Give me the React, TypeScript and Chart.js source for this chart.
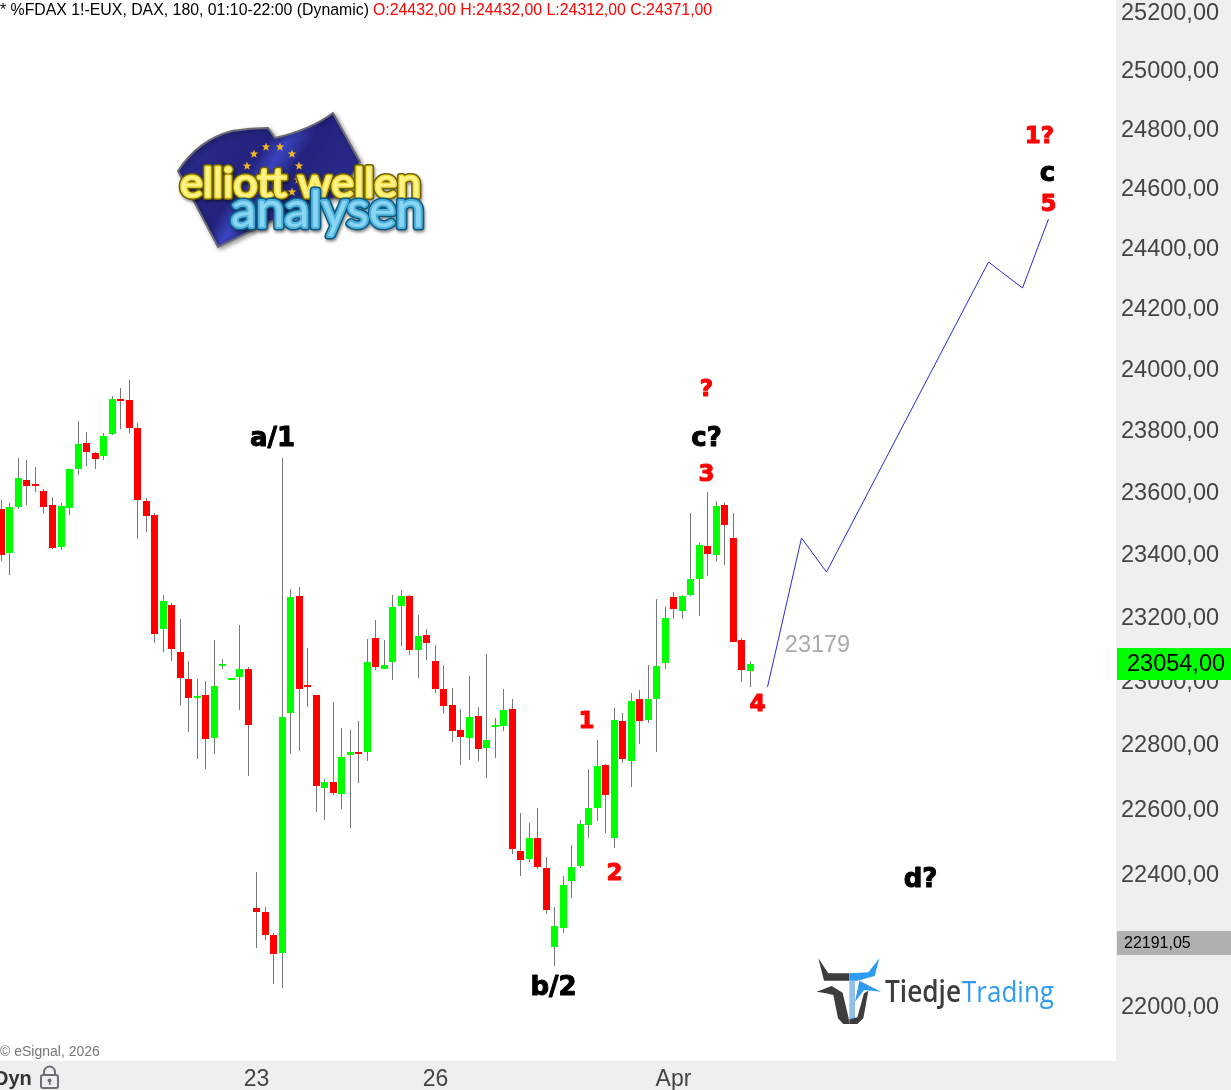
import React, { useEffect, useRef } from "react";
import { Chart, registerables, LogarithmicScale, LinearScale } from "chart.js";

Chart.register(...registerables);

class SnapLog extends LogarithmicScale {
  static id = "snapLog";
  static defaults = LogarithmicScale.defaults;
  getPixelForValue(v: any) {
    return Math.round(super.getPixelForValue(v));
  }
}
class SnapLinear extends LinearScale {
  static id = "snapLinear";
  static defaults = LinearScale.defaults;
  getPixelForValue(v: any) {
    return Math.floor(super.getPixelForValue(v)) + 0.5;
  }
}
Chart.register(SnapLog, SnapLinear);

const opens = [23543,23402,23549,23636,23623,23601,23556,23421,23546,23672,23756,23724,23714,23785,23899,23896,23805,23569,23524,23160,23236,23088,23002,22943,22952,22817,23043,22999,23009,23034,22294,22282,22212,22157,22896,23265,22983,22952,22662,22681,22644,22765,22774,22774,23132,23034,23056,23233,23265,23094,23141,23059,22971,22921,22843,22817,22886,22786,22852,22855,22908,22468,22444,22508,22416,22175,22233,22376,22422,22548,22600,22734,22508,22871,22746,22940,22874,22940,23053,23261,23217,23268,23319,23424,23395,23556,23450,23125,23027];
const closes = [23395,23549,23643,23617,23617,23549,23418,23552,23672,23753,23727,23704,23779,23899,23893,23805,23572,23520,23144,23249,23097,23005,22943,22949,22814,22980,23050,23005,23034,22858,22282,22212,22154,22883,23261,22971,22977,22669,22681,22647,22758,22774,22768,23056,23040,23046,23230,23265,23094,23138,23116,22971,22918,22839,22821,22883,22783,22811,22858,22905,22474,22441,22508,22419,22288,22239,22364,22419,22551,22600,22731,22641,22874,22752,22933,22871,22940,23043,23195,23223,23265,23319,23427,23398,23552,23492,23119,23031,23050];
const highs = [23572,23562,23707,23701,23678,23607,23581,23562,23672,23827,23792,23727,23788,23909,23935,23961,23821,23578,23530,23268,23242,23191,23059,23002,22996,23125,23065,23005,23173,23040,22404,22297,22218,23707,23287,23293,23100,22952,22690,22930,22849,22843,22871,23128,23188,23125,23268,23284,23268,23204,23160,23109,23046,22974,22908,23012,22915,23081,22880,22971,22940,22585,22554,22600,22450,22297,22392,22487,22563,22721,22811,22737,22911,22896,22958,22968,23046,23255,23230,23277,23268,23530,23434,23597,23569,23562,23530,23132,23059];
const lows = [23376,23332,23543,23556,23597,23530,23414,23411,23524,23652,23682,23672,23701,23782,23801,23788,23447,23469,23116,23088,23059,22921,22836,22752,22721,22768,23034,22999,22905,22700,22172,22197,22064,22051,22768,22777,22915,22588,22563,22641,22597,22539,22678,22746,23031,23034,22999,23106,23078,23005,23062,22958,22896,22805,22734,22749,22746,22693,22755,22839,22459,22392,22434,22413,22276,22118,22218,22325,22416,22508,22560,22523,22477,22740,22665,22799,22864,22774,23034,23191,23191,23265,23201,23328,23376,23363,23119,22993,22977];

const projX = [90, 94, 97, 116, 120, 123];
const projY = [22978, 23450, 23341, 24350, 24263, 24494];

const priceTicks = [25200,25000,24800,24600,24400,24200,24000,23800,23600,23400,23200,23000,22800,22600,22400,22000];
const timeTickValues = [30, 51, 79];
const timeTickLabels = ["23", "26", "Apr"];

const noteTexts = ["a/1","b/2","c?","d?","c","?","3","1","2","4","5","1?","23179"];
const noteX = [31.8,64.9,82.9,108,122.9,82.9,82.9,68.8,72,88.9,123,122,95.9];
const noteY = [23776,22057,23776,22385,24651,23935,23659,22874,22404,22927,24546,24776,23113];
const noteKind = ["k","k","k","k","k","r","r","r","r","r","r","r","g"];

const headerBlack = "* %FDAX 1!-EUX, DAX, 180, 01:10-22:00 (Dynamic)";
const headerRed = "O:24432,00 H:24432,00 L:24312,00 C:24371,00";
const lastPriceLabel = "23054,00";
const levelLabel = "22191,05";

const GREEN = "#00ff00";
const RED = "#ff0000";
const WICK = "#777777";
const PANEL = "#efefef";
const SANS = '"Liberation Sans"';

function poly(ctx: CanvasRenderingContext2D, pts: number[][], fill: string, stroke?: string, lw = 1) {
  ctx.beginPath();
  pts.forEach((p, i) => (i ? ctx.lineTo(p[0], p[1]) : ctx.moveTo(p[0], p[1])));
  ctx.closePath();
  ctx.fillStyle = fill;
  ctx.fill();
  if (stroke) {
    ctx.strokeStyle = stroke;
    ctx.lineWidth = lw;
    ctx.stroke();
  }
}

function layeredText(ctx: CanvasRenderingContext2D, text: string, x: number, y: number, w: number, layers: [string, number][], fill: string) {
  ctx.save();
  const m = ctx.measureText(text).width;
  ctx.translate(x, y);
  ctx.scale(w / m, 1);
  ctx.textAlign = "left";
  ctx.lineJoin = "round";
  ctx.lineCap = "round";
  layers.forEach(([c, lw]) => {
    ctx.strokeStyle = c;
    ctx.lineWidth = lw;
    ctx.strokeText(text, 0, 0);
    ctx.shadowColor = "transparent";
  });
  ctx.fillStyle = fill;
  ctx.fillText(text, 0, 0);
  ctx.restore();
}

function star(ctx: CanvasRenderingContext2D, cx: number, cy: number, r: number) {
  const pts: number[][] = [];
  for (let i = 0; i < 10; i++) {
    const a = -Math.PI / 2 + (i * Math.PI) / 5;
    const q = i % 2 ? r * 0.42 : r;
    pts.push([cx + q * Math.cos(a), cy + q * Math.sin(a)]);
  }
  poly(ctx, pts, "#f0b820");
}

function drawElliottLogo(ctx: CanvasRenderingContext2D) {
  ctx.save();
  ctx.shadowColor = "rgba(0,0,0,0.35)";
  ctx.shadowBlur = 4;
  ctx.shadowOffsetX = 2;
  ctx.shadowOffsetY = 2;
  const g = ctx.createLinearGradient(180, 120, 350, 230);
  g.addColorStop(0, "#2a2a8c");
  g.addColorStop(0.42, "#23237e");
  g.addColorStop(0.5, "#3a44c0");
  g.addColorStop(0.6, "#23237e");
  g.addColorStop(1, "#2c2c90");
  ctx.beginPath();
  ctx.moveTo(178, 171);
  ctx.quadraticCurveTo(198, 140, 232, 131);
  ctx.quadraticCurveTo(250, 128, 268, 128);
  ctx.lineTo(275, 138);
  ctx.quadraticCurveTo(310, 130, 333, 113);
  ctx.lineTo(360, 162);
  ctx.lineTo(340, 196);
  ctx.lineTo(270, 222);
  ctx.lineTo(218, 247);
  ctx.closePath();
  ctx.fillStyle = g;
  ctx.fill();
  ctx.strokeStyle = "#6c6c70";
  ctx.lineWidth = 2;
  ctx.stroke();
  ctx.restore();
  [[254,154],[266,147],[280,147],[292,154],[299,166],[298,180],[292,192],[247,166]].forEach((s) => star(ctx, s[0], s[1], 4.5));
  ctx.textBaseline = "alphabetic";
  ctx.font = '400 41px "Lato"';
  ctx.save();
  ctx.shadowColor = "rgba(0,0,0,0.45)";
  ctx.shadowBlur = 3;
  ctx.shadowOffsetX = 1;
  ctx.shadowOffsetY = 2;
  layeredText(ctx, "elliott wellen", 180, 197, 241, [["#6f6205", 6], ["#f2de3e", 3]], "#fff38a");
  ctx.font = '400 50px "Lato"';
  layeredText(ctx, "analysen", 231, 227, 193, [["#0c5a82", 7], ["#4eb2dc", 4]], "#8ad6f2");
  ctx.restore();
}

function drawTiedjeLogo(ctx: CanvasRenderingContext2D) {
  const p = (a: number[][]) => a.map((q) => [800 + q[0] / 3, 940 + q[1] / 3]);
  const dark = "#3d3d40";
  const blue = "#2f9cf0";
  poly(ctx, p([[55,55],[85,100],[148,100],[148,122],[72,122]]), dark);
  poly(ctx, p([[148,100],[205,97],[238,55],[224,108],[172,122],[148,122]]), blue);
  poly(ctx, p([[148,122],[165,122],[165,238],[148,238]]), "#8fc0ea");
  poly(ctx, p([[50,155],[95,138],[128,158],[146,235],[148,252],[130,252],[114,235],[100,165],[78,160]]), dark);
  poly(ctx, p([[178,122],[243,155],[192,150],[165,185]]), blue);
  poly(ctx, p([[192,160],[205,152],[190,235],[172,252],[148,252],[148,238],[172,232]]), dark);
  ctx.textBaseline = "alphabetic";
  ctx.font = '600 30px "Open Sans"';
  layeredText(ctx, "Tiedje", 885, 1002, 76, [], dark);
  ctx.font = '400 30px "Open Sans"';
  layeredText(ctx, "Trading", 962, 1002, 92, [], blue);
}

function drawLock(ctx: CanvasRenderingContext2D) {
  ctx.strokeStyle = "#6a6e78";
  ctx.lineWidth = 2;
  ctx.beginPath();
  ctx.roundRect(41, 1075, 17, 13, 2);
  ctx.stroke();
  ctx.beginPath();
  ctx.moveTo(44, 1075);
  ctx.lineTo(44, 1072);
  ctx.arc(49.5, 1072, 5.5, Math.PI, 0);
  ctx.lineTo(55, 1075);
  ctx.stroke();
  ctx.fillStyle = "#6a6e78";
  ctx.beginPath();
  ctx.arc(49.5, 1080.5, 2, 0, Math.PI * 2);
  ctx.fill();
  ctx.fillRect(49, 1081, 1.5, 4);
}

const chromePlugin = {
  id: "chrome",
  beforeDraw(chart: any) {
    const { ctx, width, height, chartArea } = chart;
    ctx.save();
    ctx.fillStyle = "#ffffff";
    ctx.fillRect(0, 0, width, height);
    ctx.fillStyle = PANEL;
    ctx.fillRect(chartArea.right, 0, width - chartArea.right, height);
    ctx.fillRect(0, chartArea.bottom, width, height - chartArea.bottom);
    ctx.restore();
  },
  afterDraw(chart: any) {
    const { ctx, width, scales } = chart;
    ctx.save();

    drawElliottLogo(ctx);
    drawTiedjeLogo(ctx);

    ctx.textBaseline = "middle";
    ctx.textAlign = "center";
    ctx.lineJoin = "round";
    noteTexts.forEach((t, i) => {
      const x = scales.x.getPixelForValue(noteX[i]);
      const y = scales.y.getPixelForValue(noteY[i]) + 2;
      const k = noteKind[i];
      if (k === "g") {
        ctx.font = `23.5px ${SANS}`;
        ctx.fillStyle = "#a9a9a9";
        ctx.fillText(t, x, y);
        return;
      }
      ctx.font = k === "k" ? 'bold 26px "DejaVu Sans"' : 'bold 23px "DejaVu Sans"';
      ctx.fillStyle = k === "k" ? "#000000" : RED;
      ctx.strokeStyle = ctx.fillStyle;
      ctx.lineWidth = 1;
      ctx.strokeText(t, x, y);
      ctx.fillText(t, x, y);
    });

    ctx.textAlign = "left";
    ctx.textBaseline = "middle";
    ctx.font = `15.85px ${SANS}`;
    ctx.fillStyle = "#000000";
    ctx.fillText(headerBlack, 0, 10.5);
    ctx.fillStyle = RED;
    ctx.fillText(headerRed, 373, 10.5);

    ctx.font = `14px ${SANS}`;
    ctx.fillStyle = "#777777";
    ctx.fillText("© eSignal, 2026", 0, 1052);

    ctx.font = `bold 20px ${SANS}`;
    ctx.fillStyle = "#333333";
    ctx.fillText("Dyn", -6, 1079);
    drawLock(ctx);

    const py = scales.y.getPixelForValue(Number(lastPriceLabel.replace(",", ".")));
    ctx.fillStyle = GREEN;
    ctx.fillRect(1117, py - 14, width - 1117, 32);
    ctx.fillStyle = "#000000";
    ctx.font = `23.5px ${SANS}`;
    ctx.fillText(lastPriceLabel, 1127, py + 3);

    const ly = scales.y.getPixelForValue(Number(levelLabel.replace(",", ".")));
    ctx.fillStyle = "#b0b0b0";
    ctx.fillRect(1117, ly - 11, width - 1117, 24);
    ctx.fillStyle = "#000000";
    ctx.font = `16px ${SANS}`;
    ctx.fillText(levelLabel, 1124, ly + 2);

    ctx.restore();
  },
};

export default function App() {
  const ref = useRef<HTMLCanvasElement>(null);
  useEffect(() => {
    document.body.style.margin = "0";
    document.body.style.overflow = "hidden";
    const idx = opens.map((_, i) => i);
    const chart = new Chart(ref.current!, {
      type: "bar",
      data: {
        datasets: [
          {
            type: "line",
            data: projX.map((x, i) => ({ x, y: projY[i] })),
            borderColor: "#2a2ad0",
            borderWidth: 1,
            pointRadius: 0,
            tension: 0,
            order: 0,
          },
          {
            type: "bar",
            data: idx.map((i) => ({ x: i, y: [opens[i], closes[i]] })),
            backgroundColor: idx.map((i) => (closes[i] >= opens[i] ? GREEN : RED)),
            barThickness: 7,
            grouped: false,
            inflateAmount: 0,
            borderWidth: 0,
            order: 1,
          },
          {
            type: "bar",
            data: idx.map((i) => ({ x: i, y: [lows[i], highs[i]] })),
            backgroundColor: WICK,
            barThickness: 1,
            grouped: false,
            inflateAmount: 0,
            borderWidth: 0,
            order: 2,
          },
        ] as any,
      },
      options: {
        animation: false,
        responsive: false,
        maintainAspectRatio: false,
        layout: { padding: 0 },
        plugins: { legend: { display: false }, tooltip: { enabled: false } },
        events: [],
        scales: {
          x: {
            type: "snapLinear" as any,
            min: -0.17,
            max: 130.97,
            bounds: "data",
            offset: false,
            border: { display: false },
            grid: { display: false, drawTicks: false, offset: false },
            afterBuildTicks: (s: any) => {
              s.ticks = timeTickValues.map((value) => ({ value }));
            },
            afterFit: (s: any) => {
              s.height = 29;
              s.paddingLeft = 0;
              s.paddingRight = 0;
            },
            ticks: {
              autoSkip: false,
              maxRotation: 0,
              padding: 5,
              color: "#444444",
              font: { family: "Liberation Sans", size: 23 },
              callback: (v: any) => timeTickLabels[timeTickValues.indexOf(Number(v))] ?? "",
            },
          },
          y: {
            type: "snapLog" as any,
            position: "right",
            min: 21832,
            max: 25238,
            bounds: "data",
            beginAtZero: false,
            border: { display: false },
            grid: { display: false, drawTicks: false },
            afterBuildTicks: (s: any) => {
              s.ticks = priceTicks.map((value) => ({ value }));
            },
            afterFit: (s: any) => {
              s.width = 115;
              s.paddingTop = 0;
              s.paddingBottom = 0;
            },
            ticks: {
              autoSkip: false,
              padding: 5,
              labelOffset: 3,
              color: "#444444",
              font: { family: "Liberation Sans", size: 23.5 },
              callback: (v: any) => Number(v).toFixed(2).replace(".", ","),
            },
          },
        },
      } as any,
      plugins: [chromePlugin],
    });
    return () => chart.destroy();
  }, []);
  return <canvas ref={ref} width={1231} height={1090} style={{ display: "block" }} />;
}
